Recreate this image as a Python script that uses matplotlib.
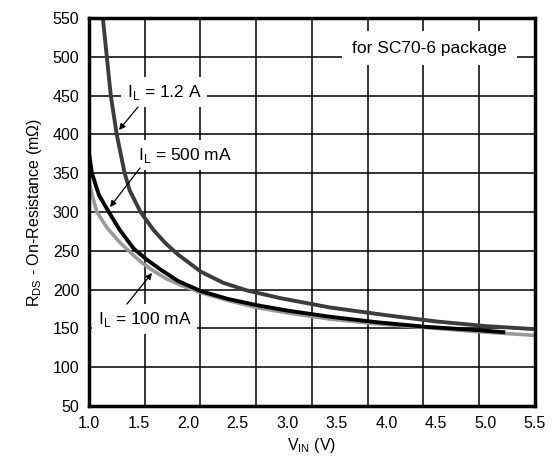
import numpy as np
import matplotlib
matplotlib.use("Agg")
import matplotlib.pyplot as plt

plt.rcParams['font.family'] = ['Liberation Sans', 'DejaVu Sans']
plt.rcParams['mathtext.fontset'] = 'custom'
plt.rcParams['mathtext.rm'] = 'Liberation Sans'

# Data
vin_12 = [1.14, 1.18, 1.22, 1.28, 1.36, 1.41, 1.52, 1.65, 1.77, 1.90, 2.13, 2.35, 2.59,
          2.93, 3.43, 4.0, 4.5, 5.0, 5.5]
r_12 = [550, 500, 450, 400, 350, 328, 300, 277, 260, 245, 223, 209, 199,
        189, 177, 167, 159, 153, 149]

vin_500 = [1.0, 1.03, 1.10, 1.20, 1.31, 1.45, 1.58, 1.72, 1.90, 2.13, 2.40, 2.69, 3.0,
           3.43, 3.9, 4.4, 4.9, 5.2]
r_500 = [376, 350, 322, 300, 277, 253, 239, 226, 211, 198, 188, 180, 173,
         165, 158, 152, 148, 145]

vin_100 = [1.0, 1.04, 1.08, 1.18, 1.31, 1.40, 1.52, 1.64, 1.78, 1.92, 2.13, 2.40, 2.69, 3.0,
           3.43, 3.9, 4.4, 4.9, 5.5]
r_100 = [339, 318, 300, 280, 261, 250, 236, 225, 214, 206, 196, 186, 177, 170,
         162, 156, 151, 146, 141]

x_ticks = [1.0, 1.5, 2.0, 2.5, 3.0, 3.5, 4.0, 4.5, 5.0, 5.5]
y_ticks = [50, 100, 150, 200, 250, 300, 350, 400, 450, 500, 550]

fig = plt.figure(figsize=(5.52, 4.63), dpi=100)
ax = fig.add_axes([0.1612, 0.1231, 0.8080, 0.8380])

ax.set_xlim(1.0, 5.5)
ax.set_ylim(50, 550)
ax.set_xticks(x_ticks)
ax.set_xticklabels([f"{v:.1f}" for v in x_ticks])
ax.set_yticks(y_ticks)
ax.set_xticks(np.linspace(1.0, 5.5, 9), minor=True)
ax.tick_params(axis='both', which='both', length=0, labelsize=11.5)
ax.tick_params(axis='y', pad=7)
ax.tick_params(axis='x', pad=7)

ax.grid(False)
ax.xaxis.grid(True, which='minor', color='black', lw=1.1)
ax.yaxis.grid(True, which='major', color='black', lw=1.1)

for s in ax.spines.values():
    s.set_linewidth(2.5)
    s.set_zorder(6)

ax.plot(vin_100, r_100, color='#9a9a9a', lw=2.6, zorder=4, solid_capstyle='butt', solid_joinstyle='round')
ax.plot(vin_500, r_500, color='black', lw=2.8, zorder=5, solid_capstyle='butt', solid_joinstyle='round')
ax.plot(vin_12, r_12, color='#3c3c3c', lw=2.8, zorder=4, solid_capstyle='butt', solid_joinstyle='round')

box = dict(facecolor='white', edgecolor='none', pad=4)
ap = dict(arrowstyle='-|>', color='black', lw=0.9, mutation_scale=9, shrinkA=0, shrinkB=0)
fs = 12.5

ax.text(1.383, 454.6, r'I$_\mathregular{L}$ = 1.2 A', ha='left', va='center', fontsize=fs, bbox=box, zorder=3)
ax.annotate('', xy=(1.303, 405.7), xytext=(1.494, 435.3), arrowprops=ap, zorder=7)

ax.text(1.494, 373.4, r'I$_\mathregular{L}$ = 500 mA', ha='left', va='center', fontsize=fs, bbox=box, zorder=3)
ax.annotate('', xy=(1.212, 306.4), xytext=(1.515, 356.7), arrowprops=ap, zorder=7)

ax.text(1.091, 162.1, r'I$_\mathregular{L}$ = 100 mA', ha='left', va='center', fontsize=fs, bbox=box, zorder=3)
ax.annotate('', xy=(1.636, 221.4), xytext=(1.383, 181.4), arrowprops=ap, zorder=7)

ax.text(3.654, 511.3, 'for SC70-6 package', ha='left', va='center', fontsize=fs,
        bbox=dict(facecolor='white', edgecolor='none', pad=7), zorder=3)

ax.set_ylabel(r'R$_\mathregular{DS}$ - On-Resistance (m$\Omega$)', fontsize=11.5, labelpad=6)
ax.set_xlabel(r'V$_\mathregular{IN}$ (V)', fontsize=11.5, labelpad=4)

fig.savefig('out.png', dpi=100)
